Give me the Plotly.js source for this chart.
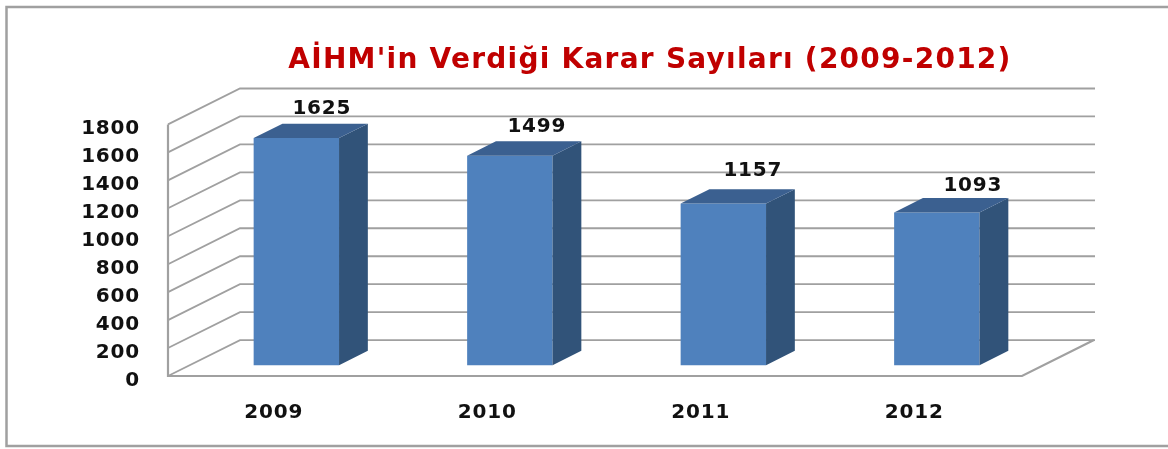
<!DOCTYPE html>
<html>
<head>
<meta charset="utf-8">
<script src="https://cdn.plot.ly/plotly-3.0.1.min.js"></script>
<style>
html,body{margin:0;padding:0;background:#fff;overflow:hidden}
#chart{width:1168px;height:449px;filter:blur(0.5px)}
#chart .xtick text,#chart .ytick text,#chart .annotation-text{letter-spacing:0.8px}
#chart .gtitle{letter-spacing:1.25px}
</style>
</head>
<body>
<div id="chart"></div>
<script>
const titleText = "AİHM'in Verdiği Karar Sayıları (2009-2012)";
const categories = ["2009", "2010", "2011", "2012"];
const values = [1625, 1499, 1157, 1093];
const axisTicks = [0, 200, 400, 600, 800, 1000, 1200, 1400, 1600, 1800];

// oblique projection of the 3D box (in axis units)
const W = 1168, H = 449;
const pad = 3;
const mL = 168 - pad, mR = 73, mT = 80, mB = 72.5 - pad;
const catPx = 213.5, valPx = 0.14;
const depthX = 0.3372, depthY = 257;
const barWidth = 0.4, barFront = 0.3, barDepth = 0.4;
const xLeft = -0.5, xRight = 3.842;
const labelShift = [[-17, 3], [-16, 2], [-13, 6], [-7, 0]];

const pts = categories.map((c, i) => i);
const cx = i => i + barFront * depthX;
const base = barFront * depthY;
const dxB = barDepth * depthX, dyB = barDepth * depthY;

const sideX = [], sideY = [], topX = [], topY = [];
values.forEach((v, i) => {
  const l = cx(i) - barWidth / 2, r = cx(i) + barWidth / 2, t = base + v;
  sideX.push(r, r + dxB, r + dxB, r, r, null);
  sideY.push(base, base + dyB, t + dyB, t, base, null);
  topX.push(l, l + dxB, r + dxB, r, l, null);
  topY.push(t, t + dyB, t + dyB, t, t, null);
});

const traces = [
  {type: 'bar', x: pts.map(cx), y: values, base: values.map(() => base), width: barWidth,
   marker: {color: '#4f81bd', line: {width: 0}}, hoverinfo: 'skip', showlegend: false},
  {type: 'scatter', mode: 'lines', x: sideX, y: sideY, fill: 'toself', fillcolor: '#315379',
   line: {width: 0, color: '#315379'}, hoverinfo: 'skip', showlegend: false},
  {type: 'scatter', mode: 'lines', x: topX, y: topY, fill: 'toself', fillcolor: '#3b6090',
   line: {width: 0, color: '#3b6090'}, hoverinfo: 'skip', showlegend: false}
];

const gridColor = '#a0a0a0';
const gridLine = {color: gridColor, width: 1.8};
const shapes = axisTicks.map(t => ({
  type: 'path', xref: 'x', yref: 'y', layer: 'below', line: gridLine,
  path: `M${xLeft},${t} L${xLeft + depthX},${t + depthY} L${xRight},${t + depthY}`
}));
const xFloorEnd = xLeft + categories.length;
shapes.push({type: 'path', xref: 'x', yref: 'y', layer: 'below', line: {color: gridColor, width: 2.2},
  path: `M${xLeft},${axisTicks[axisTicks.length - 1]} L${xLeft},0 L${xFloorEnd},0 L${xFloorEnd + depthX},${depthY}`});

// outer picture frame (open on the right side)
const px = v => (v - mL) / (W - mL - mR);
const py = v => 1 - (v - mT) / (H - mT - mB);
const frame = {color: '#a0a0a0', width: 2.5};
shapes.push({type: 'path', xref: 'paper', yref: 'paper', layer: 'below', line: frame,
  path: `M${px(W + 5)},${py(7)} L${px(6.5)},${py(7)} L${px(6.5)},${py(446.5)} L${px(W + 5)},${py(446.5)}`});

const valueFont = {family: '"DejaVu Sans", sans-serif', size: 20, color: '#111111', weight: 700};
const annotations = values.map((v, i) => ({
  xref: 'x', yref: 'y', x: cx(i) + barWidth / 2, y: base + v + dyB,
  text: String(v), showarrow: false, xanchor: 'center', yanchor: 'bottom',
  xshift: labelShift[i][0], yshift: labelShift[i][1], font: valueFont
}));

const layout = {
  width: W, height: H,
  margin: {l: mL, r: mR, t: mT, b: mB, pad: 0},
  paper_bgcolor: 'rgba(0,0,0,0)', plot_bgcolor: 'rgba(0,0,0,0)',
  showlegend: false,
  title: {text: titleText, xref: 'paper', x: px(650), xanchor: 'center',
          yref: 'container', y: 1 - 58 / H, yanchor: 'middle',
          font: {family: '"DejaVu Sans", sans-serif', size: 28, color: '#c00000', weight: 700}},
  xaxis: {type: 'linear', range: [xLeft - pad / catPx, xRight], tickmode: 'array', tickvals: pts, ticktext: categories,
          showgrid: false, zeroline: false, showline: false, ticks: '', ticklabelstandoff: 18, ticklabelshift: -1,
          tickfont: valueFont, fixedrange: true},
  yaxis: {type: 'linear', range: [-pad / valPx, (H - 72.5 - mT) / valPx], tickmode: 'array', tickvals: axisTicks,
          showgrid: false, zeroline: false, showline: false, ticks: '', ticklabelstandoff: 24, ticklabelshift: 3,
          tickfont: valueFont, fixedrange: true},
  shapes, annotations
};

Plotly.newPlot('chart', traces, layout, {displayModeBar: false, staticPlot: true});
</script>
</body>
</html>
